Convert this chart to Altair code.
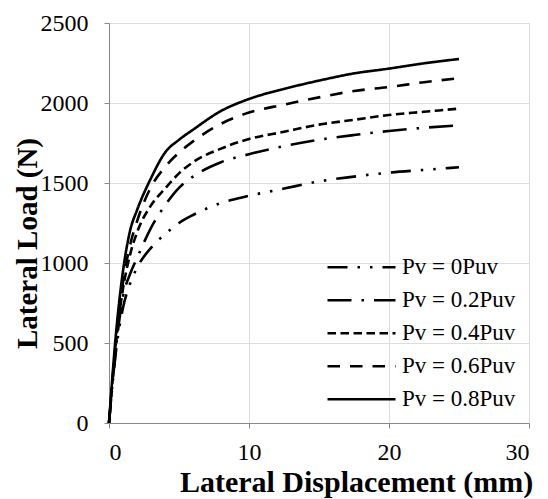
import altair as alt
import pandas as pd

disp = [0, 0.5, 1, 1.5, 2, 3, 4, 5, 6, 8, 10, 12.5, 15, 17.5, 20, 22.5, 25]
load_00 = [0, 450, 720, 870, 970, 1095, 1180, 1250, 1300, 1375, 1420, 1465, 1510, 1540, 1565, 1582, 1598]
load_02 = [0, 470, 790, 930, 1030, 1220, 1360, 1470, 1540, 1630, 1680, 1730, 1770, 1800, 1825, 1845, 1860]
load_04 = [0, 500, 840, 1050, 1190, 1360, 1465, 1560, 1630, 1715, 1775, 1820, 1865, 1895, 1925, 1945, 1965]
load_06 = [0, 520, 880, 1110, 1260, 1475, 1600, 1690, 1760, 1870, 1940, 1990, 2035, 2075, 2100, 2130, 2155]
load_08 = [0, 560, 950, 1200, 1330, 1530, 1690, 1770, 1833, 1950, 2025, 2088, 2140, 2185, 2215, 2248, 2275]

labels = ["Pv = 0Puv", "Pv = 0.2Puv", "Pv = 0.4Puv", "Pv = 0.6Puv", "Pv = 0.8Puv"]
series = [load_00, load_02, load_04, load_06, load_08]
x_ticks = [0, 10, 20, 30]
y_ticks = [0, 500, 1000, 1500, 2000, 2500]

rows = []
for lab, vals in zip(labels, series):
    for i, (x, y) in enumerate(zip(disp, vals)):
        rows.append({"disp": x, "load": y, "series": lab, "order": i})
df = pd.DataFrame(rows)

dash_range = [[20, 10, 2.5, 10, 2.5, 10], [24, 10, 2.5, 10], [8.5, 4.5], [12.5, 10], [1, 0]]

FONT = "Times New Roman, Liberation Serif, DejaVu Serif, serif"

chart = alt.Chart(df).mark_line(
    color="black", strokeWidth=2.6, interpolate="monotone"
).encode(
    x=alt.X("disp:Q", scale=alt.Scale(domain=[0, 30], nice=False),
            axis=alt.Axis(values=x_ticks, format="d", title="Lateral Displacement (mm)",
                          labelFont=FONT, labelFontSize=24, labelColor="black", labelPadding=12,
                          titleFont=FONT, titleFontSize=30, titleFontWeight="bold",
                          titleX=247, titleY=59, titleBaseline="middle", titleAlign="center")),
    y=alt.Y("load:Q", scale=alt.Scale(domain=[0, 2500], nice=False),
            axis=alt.Axis(values=y_ticks, format="d", title="Lateral Load (N)",
                          labelFont=FONT, labelFontSize=24, labelColor="black", labelPadding=16,
                          titleFont=FONT, titleFontSize=29, titleFontWeight="bold",
                          titleX=-82, titleY=220, titleAngle=270, titleBaseline="middle",
                          titleAlign="center")),
    strokeDash=alt.StrokeDash("series:N", scale=alt.Scale(domain=labels, range=dash_range),
                              sort=labels,
                              legend=alt.Legend(title=None, orient="none", legendX=217, legendY=228,
                                                symbolType="stroke", symbolSize=4624,
                                                symbolStrokeWidth=2.6, symbolStrokeColor="black",
                                                labelFont=FONT, labelFontSize=23, labelColor="black",
                                                labelOffset=5, clipHeight=32.5, rowPadding=0,
                                                padding=0)),
    order="order:Q",
).properties(
    width=420, height=400,
    autosize=alt.AutoSizeParams(type="none"),
    padding={"left": 109, "top": 23, "right": 19, "bottom": 76},
    background="white",
).configure_view(stroke=None).configure_axis(
    grid=False, domainColor="black", domainWidth=2.6, tickColor="black", tickWidth=2.6,
    tickSize=7, titleColor="black",
).configure(font=FONT)

chart.save("out.html", embed_options={"renderer": "svg", "actions": False})
